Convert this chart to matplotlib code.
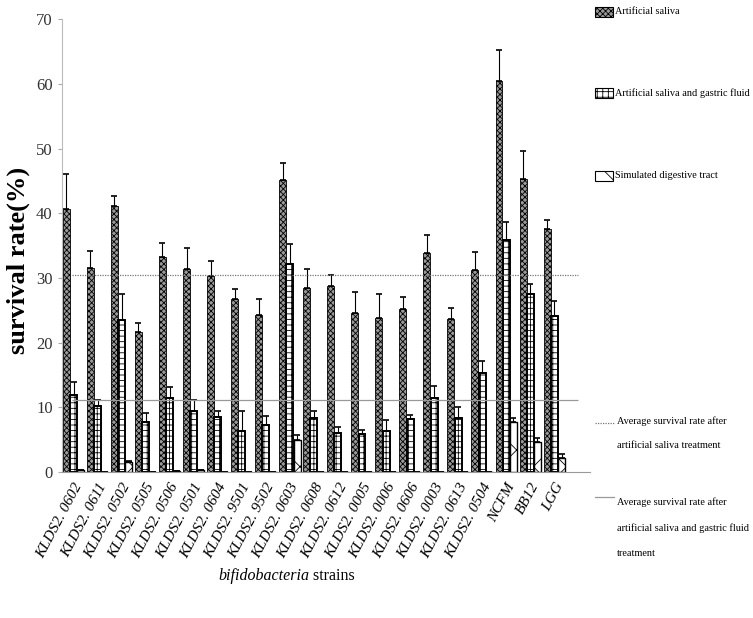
import numpy as np
import matplotlib
matplotlib.use("Agg")
import matplotlib.pyplot as plt
from matplotlib.patches import Rectangle
from matplotlib.lines import Line2D

plt.rcParams["font.family"] = "Liberation Serif"
plt.rcParams["hatch.linewidth"] = 0.6

strains = ["KLDS2. 0602", "KLDS2. 0611", "KLDS2. 0502", "KLDS2. 0505", "KLDS2. 0506",
           "KLDS2. 0501", "KLDS2. 0604", "KLDS2. 9501", "KLDS2. 9502", "KLDS2. 0603",
           "KLDS2. 0608", "KLDS2. 0612", "KLDS2. 0005", "KLDS2. 0006", "KLDS2. 0606",
           "KLDS2. 0003", "KLDS2. 0613", "KLDS2. 0504", "NCFM", "BB12", "LGG"]

saliva = [40.6, 31.5, 41.1, 21.6, 33.3, 31.4, 30.3, 26.7, 24.3, 45.1, 28.5,
          28.8, 24.6, 23.8, 25.2, 33.9, 23.6, 31.3, 60.4, 45.3, 37.6]
saliva_err = [5.4, 2.7, 1.6, 1.5, 2.1, 3.2, 2.4, 1.6, 2.5, 2.7, 2.9,
              1.6, 3.2, 3.8, 1.8, 2.8, 1.7, 2.7, 4.9, 4.4, 1.4]

gastric = [11.9, 10.2, 23.5, 7.7, 11.4, 9.5, 8.5, 6.4, 7.3, 32.1, 8.3,
           6.1, 5.9, 6.3, 8.2, 11.5, 8.4, 15.3, 35.8, 27.5, 24.1]
gastric_err = [2.1, 0.9, 4.0, 1.5, 1.7, 1.7, 0.9, 3.0, 1.3, 3.2, 1.1,
               0.8, 0.6, 1.8, 0.6, 1.8, 1.6, 1.8, 2.8, 1.5, 2.4]

digest = [0.3, 0.1, 1.5, 0.1, 0.2, 0.3, 0.1, 0.1, 0.1, 5.0, 0.1,
          0.1, 0.1, 0.1, 0.1, 0.1, 0.1, 0.1, 7.8, 4.6, 2.2]
digest_err = [0, 0, 0.3, 0, 0, 0, 0, 0, 0, 0.7, 0,
              0, 0, 0, 0, 0, 0, 0, 0.6, 0.7, 0.6]

avg_saliva = 30.4
avg_gastric = 11.2

bar_labels = ["Artificial saliva", "Artificial saliva and gastric fluid",
              "Simulated digestive tract"]
line_labels = ["Average survival rate after\nartificial saliva treatment",
               "Average survival rate after\nartificial saliva and gastric fluid\ntreatment"]

W, H = 753, 618
fig = plt.figure(figsize=(W / 100, H / 100), dpi=100)
ax = fig.add_axes([0.082, 0.236, 0.702, 0.733])

x = np.arange(len(strains))
w = 0.29
ekw = dict(ecolor="black", elinewidth=0.8, capsize=2, capthick=1.2)

styles = [dict(color="#9a9a9a", edgecolor="black", hatch="xxxxxx", linewidth=0.6),
          dict(color="white", edgecolor="black", hatch="+++", linewidth=1.4),
          dict(color="white", edgecolor="black", hatch="x", linewidth=1.0)]

ax.bar(x, saliva, w, yerr=[np.zeros(len(x)), saliva_err], error_kw=ekw, **styles[0])
ax.bar(x + 0.3, gastric, w, yerr=[np.zeros(len(x)), gastric_err], error_kw=ekw, **styles[1])
ax.bar(x + 0.6, digest, w, yerr=[np.zeros(len(x)), digest_err], error_kw=ekw, **styles[2])

dotted = dict(color="#777777", linestyle=(0, (1, 1)), linewidth=0.9)
solid = dict(color="#999999", linestyle="-", linewidth=0.9)
ax.hlines(avg_saliva, 0.23, 21.3, colors=dotted["color"], linestyles=dotted["linestyle"],
          linewidth=0.9)
ax.hlines(avg_gastric, 0.23, 21.3, colors=solid["color"], linewidth=0.9)

ax.set_xlim(-0.19, 21.8)
ax.set_ylim(0, 70)
ax.set_yticks(range(0, 71, 10))
ax.tick_params(axis="y", labelsize=12, length=3, color="#aaaaaa", labelcolor="#333333")
ax.set_xticks(x + 0.3)
ax.set_xticklabels(strains, rotation=62, ha="right", rotation_mode="anchor",
                   fontstyle="italic", fontsize=11)
ax.tick_params(axis="x", length=0, pad=6)
for s in ["top", "right"]:
    ax.spines[s].set_visible(False)
ax.spines["left"].set_color("#bbbbbb")
ax.spines["bottom"].set_color("#999999")

fig.text(0.024, 0.578, "survival rate(%)", rotation=90, fontsize=19, fontweight="bold",
         va="center", ha="center")

# x label: italic genus + plain word
t1 = fig.text(0.29, 0.062, "bifidobacteria", fontstyle="italic", fontsize=11.5, ha="left")
fig.canvas.draw()
bb = t1.get_window_extent()
fig.text(bb.x1 / W, 0.062, " strains", fontsize=11.5, ha="left")

# legend on the right, drawn by hand to match the spacing
def fy(py):
    return 1 - py / H

fs = 7.4
for lab, st, py in zip(bar_labels, styles, [12, 93, 176]):
    fig.add_artist(Rectangle((595 / W, fy(py + 5)), 18 / W, 10 / H, transform=fig.transFigure,
                             facecolor=st["color"], edgecolor="black", hatch=st["hatch"],
                             linewidth=0.8))
    fig.text(615 / W, fy(py), lab, fontsize=fs, va="center", ha="left")

for lab, st, py, ty in zip(line_labels, [dotted, solid], [423, 497], [416, 497]):
    fig.add_artist(Line2D([595 / W, 614 / W], [fy(py), fy(py)], transform=fig.transFigure,
                          **st))
    fig.text(617 / W, fy(ty), lab, fontsize=fs, va="top", ha="left", linespacing=3.2)

fig.savefig("out.png", dpi=100)
